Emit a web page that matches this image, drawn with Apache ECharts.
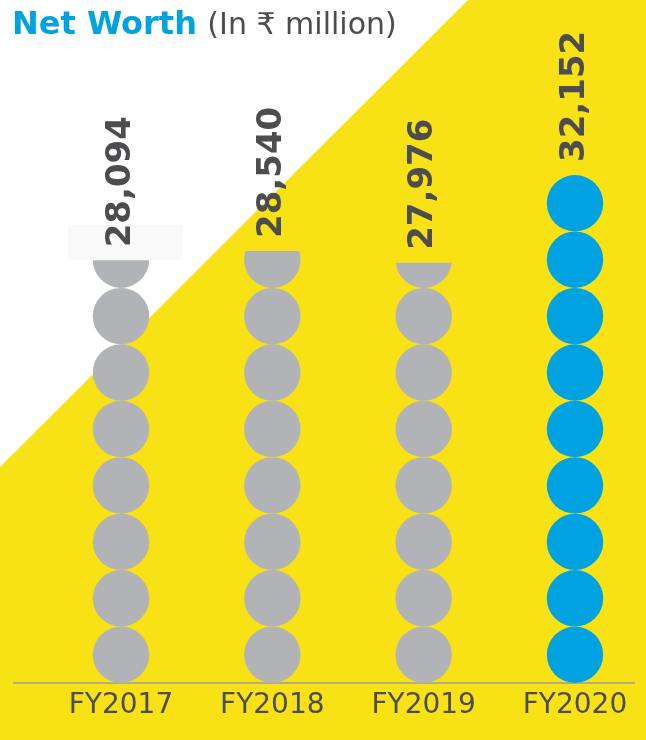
<!DOCTYPE html>
<html>
<head>
<meta charset="utf-8">
<style>
  html, body { margin: 0; padding: 0; background: #ffffff; }
  #chart { width: 646px; height: 740px; }
</style>
<script src="https://cdn.jsdelivr.net/npm/echarts@6/dist/echarts.min.js"></script>
</head>
<body>
<div id="chart"></div>
<script>
// Net worth by financial year, in ₹ million
const years = ['FY2017', 'FY2018', 'FY2019', 'FY2020'];
const netWorth = [28094, 28540, 27976, 32152];

// value axis floor (columns grow from here)
const axisFloor = 8000;
const axisCeil = Math.max(...netWorth);
// number of full discs in the tallest column
const discsInTallest = 9;

const GREY = '#b1b3b6';
const BLUE = '#00a3e0';
const YELLOW = '#f8e115';
const TEXT = '#4d4d4f';
const FONT = '"DejaVu Sans", "Noto Sans", sans-serif';

const chart = echarts.init(document.getElementById('chart'));

function renderColumn(params, api) {
  const idx = api.value(0);
  const value = api.value(1);
  const base = api.coord([idx, axisFloor]);
  const top = api.coord([idx, value]);
  const ceil = api.coord([idx, axisCeil]);
  const cx = base[0];
  const d = (base[1] - ceil[1]) / discsInTallest;
  const r = d / 2;
  const fill = params.dataIndex === netWorth.length - 1 ? BLUE : GREY;
  const children = [];
  for (let k = 0; ; k++) {
    const bottom = base[1] - k * d;
    if (bottom <= top[1] + 0.01) break;
    const cy = bottom - r;
    const upper = bottom - d;
    if (upper >= top[1] - 0.5) {
      children.push({ type: 'circle', shape: { cx: cx, cy: cy, r: r }, style: { fill: fill } });
    } else {
      // disc cut by the column's value line: keep the part below it
      const yc = top[1];
      const dy = yc - cy;
      const w = Math.sqrt(Math.max(r * r - dy * dy, 0));
      const large = dy < 0 ? 1 : 0;
      const p = 'M ' + (cx - w) + ' ' + yc + ' L ' + (cx + w) + ' ' + yc +
        ' A ' + r + ' ' + r + ' 0 ' + large + ' 1 ' + (cx - w) + ' ' + yc + ' Z';
      children.push({ type: 'path', shape: { pathData: p }, style: { fill: fill } });
    }
  }
  children.push({
    type: 'text',
    x: cx,
    y: top[1] - 13,
    rotation: Math.PI / 2,
    style: {
      text: value.toLocaleString('en-US'),
      fill: TEXT,
      font: 'bold 34px ' + FONT,
      align: 'left',
      verticalAlign: 'middle'
    }
  });
  return { type: 'group', children: children };
}

chart.setOption({
  animation: false,
  backgroundColor: '#ffffff',
  title: {
    left: 7,
    top: 5,
    text: '{a|Net Worth} {b|(In ₹ million)}',
    textStyle: {
      fontSize: 30,
      fontFamily: FONT,
      rich: {
        a: { fontFamily: FONT, fontWeight: 'bold', fontSize: 32, color: BLUE },
        b: { fontFamily: FONT, fontWeight: 'normal', fontSize: 30, color: TEXT }
      }
    }
  },
  graphic: [
    {
      type: 'polygon',
      z: -10,
      shape: { points: [[0, 467], [468, 0], [646, 0], [646, 740], [0, 740]] },
      style: { fill: YELLOW }
    },
    {
      type: 'rect',
      z: -9,
      shape: { x: 68, y: 225, width: 115, height: 35 },
      style: { fill: '#f9f9f9' }
    },
    {
      type: 'line',
      z: -5,
      shape: { x1: 13, y1: 683, x2: 635, y2: 683 },
      style: { stroke: '#9b9da1', lineWidth: 1.5 }
    }
  ],
  grid: { left: 121, right: 71, top: 175, bottom: 57 },
  xAxis: {
    type: 'category',
    data: years,
    boundaryGap: false,
    axisLine: { show: false },
    axisTick: { show: false },
    axisLabel: {
      margin: 9,
      color: TEXT,
      fontFamily: FONT,
      fontSize: 28
    }
  },
  yAxis: {
    type: 'value',
    min: axisFloor,
    max: axisCeil,
    show: false
  },
  series: [{
    type: 'custom',
    renderItem: renderColumn,
    data: netWorth.map((v, i) => [i, v])
  }]
});
</script>
</body>
</html>
